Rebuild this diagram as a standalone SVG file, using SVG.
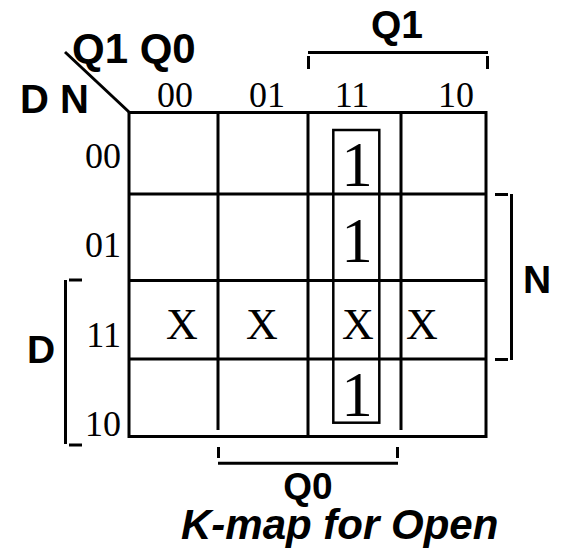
<svg xmlns="http://www.w3.org/2000/svg" width="563" height="551" viewBox="0 0 563 551">
<style>
.ln{stroke:#000;stroke-width:3;fill:none}
.bx{stroke:#000;stroke-width:2.5;fill:none}
.sf{font-family:"Liberation Serif","Times New Roman",serif;fill:#000}
.sb{font-family:"Liberation Sans",Arial,sans-serif;font-weight:bold;fill:#000}
.lbl{font-size:36px}
.cell{font-size:44px;text-anchor:middle}
.one{font-size:63px;text-anchor:middle}
</style>
<rect width="563" height="551" fill="#fff"/>
<g id="connectors">
  <line class="ln" x1="65" y1="52" x2="129" y2="112"/>
  <rect class="ln" x="129" y="112.5" width="357" height="324"/>
  <line class="ln" x1="218" y1="112.5" x2="218" y2="430"/>
  <line class="ln" x1="308" y1="112.5" x2="308" y2="436.5"/>
  <line class="ln" x1="401" y1="112.5" x2="401" y2="430"/>
  <line class="ln" x1="129" y1="194" x2="486" y2="194"/>
  <line class="ln" x1="129" y1="280.5" x2="486" y2="280.5"/>
  <line class="ln" x1="129" y1="359" x2="486" y2="359"/>
</g>
<g id="group-box">
  <rect class="bx" x="333.3" y="130" width="46" height="292.7"/>
</g>
<g id="bracket-q1">
  <line class="ln" x1="308" y1="52.5" x2="488" y2="52.5"/>
  <line class="ln" x1="308.5" y1="56" x2="308.5" y2="69"/>
  <line class="ln" x1="487.5" y1="56" x2="487.5" y2="69"/>
  <text class="sb" x="397" y="38" font-size="39" text-anchor="middle">Q1</text>
</g>
<g id="bracket-n">
  <line class="ln" x1="511.5" y1="194" x2="511.5" y2="360"/>
  <line class="ln" x1="495" y1="194.5" x2="508" y2="194.5"/>
  <line class="ln" x1="495" y1="359.5" x2="508" y2="359.5"/>
  <text class="sb" x="523" y="293" font-size="39">N</text>
</g>
<g id="bracket-d">
  <line class="ln" x1="65.5" y1="280" x2="65.5" y2="444"/>
  <line class="ln" x1="69" y1="280" x2="82" y2="280"/>
  <line class="ln" x1="69" y1="445" x2="82" y2="445"/>
  <text class="sb" x="27" y="363" font-size="39">D</text>
</g>
<g id="bracket-q0">
  <line class="ln" x1="218" y1="463.3" x2="398" y2="463.3"/>
  <line class="ln" x1="218.5" y1="447" x2="218.5" y2="458"/>
  <line class="ln" x1="397.5" y1="447" x2="397.5" y2="458"/>
  <text class="sb" x="308" y="499" font-size="37" text-anchor="middle">Q0</text>
</g>
<g id="axis-labels">
  <text class="sb" x="72" y="63" font-size="42">Q1 Q0</text>
  <text class="sb" x="20" y="113" font-size="40">D N</text>
</g>
<g id="col-labels">
  <text class="sf lbl" x="175" y="106.5" text-anchor="middle">00</text>
  <text class="sf lbl" x="267" y="106.5" text-anchor="middle">01</text>
  <text class="sf lbl" x="352" y="106.5" text-anchor="middle">11</text>
  <text class="sf lbl" x="456" y="106.5" text-anchor="middle">10</text>
</g>
<g id="row-labels">
  <text class="sf lbl" x="121" y="168" text-anchor="end">00</text>
  <text class="sf lbl" x="121" y="257" text-anchor="end">01</text>
  <text class="sf lbl" x="121" y="347" text-anchor="end">11</text>
  <text class="sf lbl" x="121" y="436" text-anchor="end">10</text>
</g>
<g id="cells">
  <text class="sf one" x="357" y="186">1</text>
  <text class="sf one" x="357" y="262">1</text>
  <text class="sf cell" x="182" y="339">X</text>
  <text class="sf cell" x="262" y="339">X</text>
  <text class="sf cell" x="358" y="339">X</text>
  <text class="sf cell" x="422" y="339">X</text>
  <text class="sf one" x="357" y="416">1</text>
</g>
<g id="title">
  <text class="sb" x="181" y="539" font-size="42" font-style="italic">K-map for Open</text>
</g>
</svg>
